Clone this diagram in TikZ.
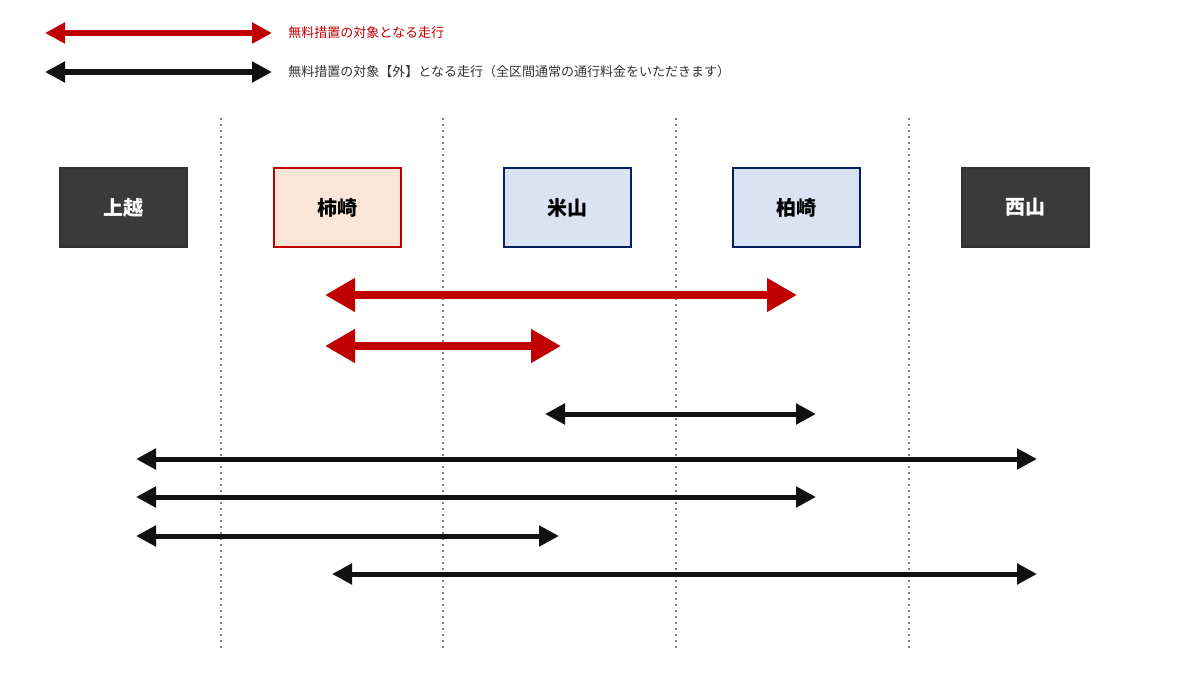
\documentclass[tikz,border=0pt]{standalone}
\usepackage{fontspec}
\setmainfont{Noto Sans CJK JP}
\usetikzlibrary{arrows.meta}
\definecolor{myred}{HTML}{C00000}
\definecolor{navy}{HTML}{002060}
\definecolor{dark}{HTML}{3A3A3A}
\definecolor{peach}{HTML}{FBE5D6}
\definecolor{lblue}{HTML}{DAE3F3}
\definecolor{blk}{HTML}{111111}
\tikzset{
  box/.style={draw, line width=1.2pt, minimum width=63.5pt, minimum height=39.5pt, inner sep=0pt, font=\fontsize{10}{12}\selectfont\bfseries},
  darkbox/.style={box, fill=dark, draw=black!80, text=white},
  redarr/.style={myred, line width=4pt, {Triangle[length=15pt,width=16pt]}-{Triangle[length=15pt,width=16pt]}},
  blkarr/.style={blk, line width=2.5pt, {Triangle[length=10pt,width=10pt]}-{Triangle[length=10pt,width=10pt]}},
  legred/.style={myred, line width=3pt, {Triangle[length=10pt,width=10pt]}-{Triangle[length=10pt,width=10pt]}},
  legblk/.style={blk, line width=3pt, {Triangle[length=10pt,width=10pt]}-{Triangle[length=10pt,width=10pt]}},
  divider/.style={gray, line width=1pt, dotted},
  legtext/.style={anchor=west, inner sep=0pt, font=\fontsize{6.5}{8}\selectfont}
}
\begin{document}
\begin{tikzpicture}[x=0.5pt,y=-0.5pt]
\useasboundingbox[fill=white] (0,0) rectangle (1200,675);
% legend
\coordinate (l1a) at (45,33); \coordinate (l1b) at (272,33);
\coordinate (l2a) at (45,72); \coordinate (l2b) at (272,72);
\draw[legred] (l1a) -- (l1b);
\draw[legblk] (l2a) -- (l2b);
\node[legtext, text=myred] (t1) at (288,33) {無料措置の対象となる走行};
\node[legtext, text=black!80] (t2) at (288,72) {無料措置の対象【外】となる走行（全区間通常の通行料金をいただきます）};
% dividers
\foreach \x/\n in {221/d1,443/d2,676/d3,909/d4}{
  \coordinate (\n a) at (\x,118); \coordinate (\n b) at (\x,650);
  \draw[divider] (\n a) -- (\n b);
}
% boxes
\node[darkbox] (joetsu) at (123.5,207.5) {上越};
\node[box, draw=myred, fill=peach] (kakizaki) at (337.5,207.5) {柿崎};
\node[box, draw=navy, fill=lblue] (yoneyama) at (567.5,207.5) {米山};
\node[box, draw=navy, fill=lblue] (kashiwazaki) at (796.5,207.5) {柏崎};
\node[darkbox] (nishiyama) at (1025.5,207.5) {西山};
% arrows
\coordinate (r1a) at (325,295); \coordinate (r1b) at (797,295);
\coordinate (r2a) at (325,346); \coordinate (r2b) at (561,346);
\draw[redarr] (r1a) -- (r1b);
\draw[redarr] (r2a) -- (r2b);
\coordinate (b1a) at (545,414); \coordinate (b1b) at (816,414);
\coordinate (b2a) at (136,459); \coordinate (b2b) at (1037,459);
\coordinate (b3a) at (136,497); \coordinate (b3b) at (816,497);
\coordinate (b4a) at (136,536); \coordinate (b4b) at (559,536);
\coordinate (b5a) at (332,574); \coordinate (b5b) at (1037,574);
\foreach \n in {b1,b2,b3,b4,b5}{\draw[blkarr] (\n a) -- (\n b);}
\end{tikzpicture}
\end{document}
